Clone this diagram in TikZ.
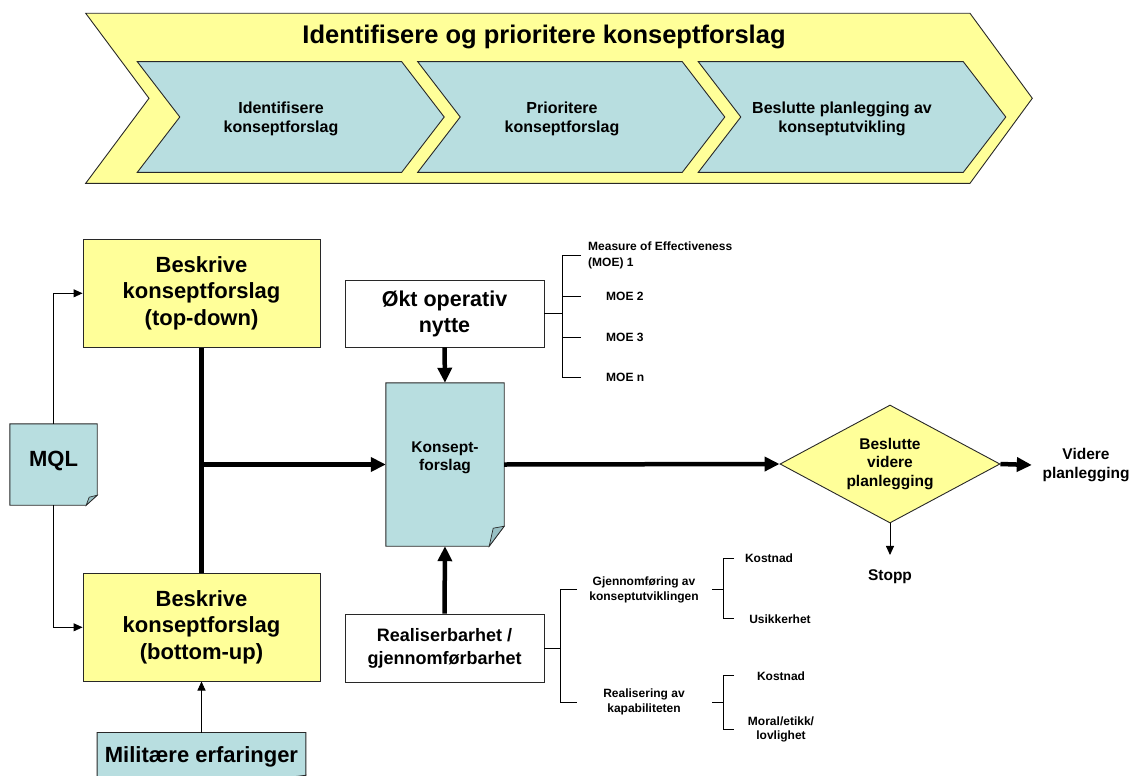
\documentclass[tikz,border=0pt]{standalone}
\usepackage{fontspec}
\setmainfont{Liberation Sans}
\usetikzlibrary{arrows.meta,shapes.geometric,calc}
\definecolor{paleyellow}{RGB}{255,255,153}
\definecolor{paleteal}{RGB}{184,222,224}
\definecolor{foldteal}{RGB}{152,192,196}
\definecolor{edgegrey}{RGB}{40,40,40}
\begin{document}
\begin{tikzpicture}[x=1pt,y=-1pt,
  txt/.style 2 args={font=\fontsize{#1}{#2}\selectfont\bfseries, align=center, inner sep=0pt},
  box/.style={draw=edgegrey, line width=0.9pt},
  yellowbox/.style={box, fill=paleyellow},
  whitebox/.style={box, fill=white},
  docbox/.style={inner sep=0pt},
  docline/.style={draw=edgegrey, line width=0.9pt, fill=paleteal},
  flap/.style={draw=edgegrey, line width=0.7pt, fill=foldteal},
  chevron/.style={draw=edgegrey, line width=0.9pt},
  wire/.style={line width=0.9pt},
  feed/.style={line width=0.9pt, -{Triangle[length=9pt,width=8pt]}},
  bus/.style={line width=4.5pt},
  flow/.style={line width=4.5pt, -{Triangle[length=15pt,width=14pt]}}]

\useasboundingbox (0,0) rectangle (1135,776);
\clip (0,0) rectangle (1135,776);

% process banner
\draw[chevron, fill=paleyellow] (85.7,13.3) -- (970,13.3) -- (1032.3,98.3) -- (970,183.3) -- (85.7,183.3) -- (149,98.3) -- cycle;
\foreach \a/\b in {137.3/401.7, 417.7/682.3, 698.3/963.3}
  \draw[chevron, fill=paleteal] (\a,61.7) -- (\b,61.7) -- (\b+42.5,117) -- (\b,172.3) -- (\a,172.3) -- (\a+42.5,117) -- cycle;
\node[txt={25.5}{30}, anchor=base] (title) at (544,44) {Identifisere og prioritere konseptforslag};
\node[txt={16}{19.4}] (phase1) at (281,119) {Identifisere\\konseptforslag};
\node[txt={16}{19.4}] (phase2) at (562,119) {Prioritere\\konseptforslag};
\node[txt={16}{19.4}] (phase3) at (842,119) {Beslutte planlegging av\\konseptutvikling};

% description boxes
\node[yellowbox, minimum width=237pt, minimum height=107.5pt, txt={22}{26.5}] (topdown) at (201.5,293.3) {Beskrive\\konseptforslag\\(top-down)};
\node[yellowbox, minimum width=237pt, minimum height=107.5pt, txt={22}{26.5}] (bottomup) at (201.5,627.3) {Beskrive\\konseptforslag\\(bottom-up)};

% MQL document
\node[docbox, minimum width=87pt, minimum height=81pt] (mql) at (53.5,464.5) {};
\draw[docline] (mql.north west) -- (mql.north east) -- ([yshift=10pt]mql.south east) -- ([xshift=-11pt]mql.south east) -- (mql.south west) -- cycle;
\draw[flap] ([xshift=-11pt]mql.south east) -- ([xshift=-8pt,yshift=8pt]mql.south east) -- ([yshift=10pt]mql.south east) -- cycle;
\node[txt={22}{26.5}] (mqltext) at (53.5,461) {MQL};
\draw[feed] (mql.north) |- (topdown.west);
\draw[feed] (mql.south) |- (bottomup.west);

% concept document
\node[docbox, minimum width=118pt, minimum height=163pt] (konsept) at (445,464.5) {};
\draw[docline] (konsept.north west) -- (konsept.north east) -- ([yshift=20pt]konsept.south east) -- ([xshift=-15pt]konsept.south east) -- (konsept.south west) -- cycle;
\draw[flap] ([xshift=-15pt]konsept.south east) -- ([xshift=-11pt,yshift=18pt]konsept.south east) -- ([yshift=20pt]konsept.south east) -- cycle;
\node[txt={15.5}{18.5}] (konsepttext) at (445,458) {Konsept-\\forslag};

\draw[bus] (topdown.south) -- (bottomup.north);
\coordinate (junction) at (201.5,464.5);
\draw[flow] (junction) -- (konsept.west);

% benefit and feasibility
\node[whitebox, minimum width=199pt, minimum height=67pt, txt={21.5}{26}] (okt) at (444.5,313.5) {Økt operativ\\nytte};
\node[whitebox, minimum width=199pt, minimum height=68pt, txt={18}{23}] (real) at (444.5,648) {Realiserbarhet /\\gjennomførbarhet};
\draw[flow] (okt.south) -- (konsept.north);
\draw[flow] (real.north) -- (konsept.south);

% decision
\node[diamond, aspect=1.864, draw=edgegrey, line width=0.9pt, fill=paleyellow, minimum width=220pt, minimum height=118pt, txt={15.5}{18.5}] (decide) at (890,464) {Beslutte\\videre\\planlegging};
\draw[flow] (konsept.east) -- (decide.west);
\node[txt={15.5}{19}, inner xsep=10.5pt] (onward) at (1086,465) {Videre\\planlegging};
\draw[flow] (decide.east) -- (onward.west);
\node[txt={15.5}{19}, outer ysep=15pt] (stop) at (890,577) {Stopp};
\draw[feed] (decide.south) -- (stop.north);

% measures of effectiveness
\coordinate (moespine) at (562,313.5);
\draw[wire] (okt.east) -- (moespine);
\draw[wire] (581,255) -- (562,255) -- (562,377) -- (581,377);
\draw[wire] (562,296) -- (581,296);
\draw[wire] (562,337) -- (581,337);
\node[txt={12}{16}, align=left, anchor=west] (moe1) at (588,255) {Measure of Effectiveness\\(MOE) 1};
\node[txt={12}{15}, anchor=west] (moe2) at (606,296) {MOE 2};
\node[txt={12}{15}, anchor=west] (moe3) at (606,337) {MOE 3};
\node[txt={12}{15}, anchor=west] (moen) at (606,377) {MOE n};

% feasibility breakdown
\coordinate (realspine) at (560,648);
\draw[wire] (real.east) -- (realspine);
\draw[wire] (577,589) -- (560,589) -- (560,702) -- (577,702);
\node[txt={12}{14.5}] (exec) at (644,590) {Gjennomføring av\\konseptutviklingen};
\node[txt={12}{14.5}] (realise) at (644,702) {Realisering av\\kapabiliteten};
\draw[wire] (712,589) -- (723,589);
\draw[wire] (734,558) -- (723,558) -- (723,618) -- (734,618);
\node[txt={12}{14.5}] (cost1) at (769,558) {Kostnad};
\node[txt={12}{14.5}] (risk) at (780,619) {Usikkerhet};
\draw[wire] (712,702) -- (723,702);
\draw[wire] (734,675) -- (723,675) -- (723,729) -- (734,729);
\node[txt={12}{14.5}] (cost2) at (781,676) {Kostnad};
\node[txt={12}{14.5}] (ethics) at (781,729.5) {Moral/etikk/\\lovlighet};

% military experience document
\node[docbox, minimum width=208.4pt, minimum height=60.3pt] (mil) at (201.5,762.85) {};
\draw[docline] (mil.north west) -- (mil.north east) -- ([yshift=18pt]mil.south east) -- ([xshift=-18pt]mil.south east) -- (mil.south west) -- cycle;
\draw[flap] ([xshift=-18pt]mil.south east) -- ([xshift=-16.5pt,yshift=16pt]mil.south east) -- ([yshift=18pt]mil.south east) -- cycle;
\node[txt={22}{26}] (miltext) at (201.5,757) {Militære erfaringer};
\draw[feed] (mil.north) -- (bottomup.south);
\end{tikzpicture}
\end{document}
